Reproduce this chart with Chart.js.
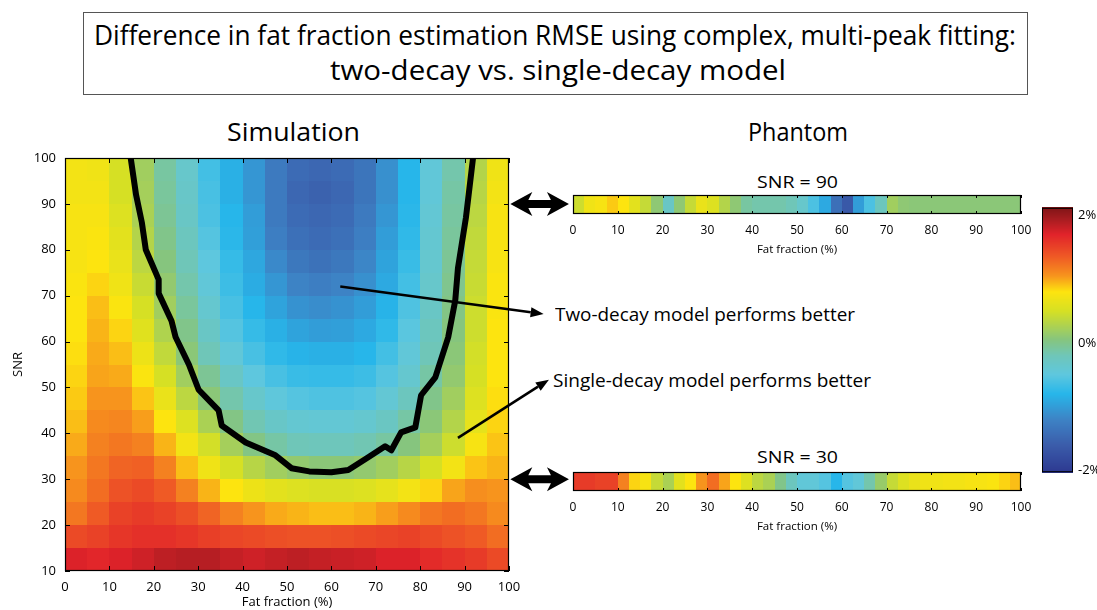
<!DOCTYPE html>
<html>
<head>
<meta charset="utf-8">
<script src="https://cdn.jsdelivr.net/npm/chart.js@4.4.1/dist/chart.umd.min.js"></script>
<style>
    html, body { margin: 0; padding: 0; background: #fff; }
    #page { position: relative; width: 1097px; height: 610px; overflow: hidden; font-family: 'Open Sans', sans-serif; color: #000; }
    canvas { position: absolute; }
    .txt { position: absolute; white-space: nowrap; line-height: 1; transform-origin: 0 0; }
    #titleBox { position: absolute; left: 83px; top: 12px; width: 945px; height: 83px; box-sizing: border-box; border: 1.5px solid #555; }
</style>
</head>
<body>
<div id="page">
    <div id="titleBox"></div>
    <span class="txt" style="left:94px;top:20px;font-size:28px" data-w="922">Difference in fat fraction estimation RMSE using complex, multi-peak fitting:</span>
    <span class="txt" style="left:330px;top:55px;font-size:28px" data-w="456">two-decay vs. single-decay model</span>

    <span class="txt" style="left:227px;top:119px;font-size:25px" data-w="133">Simulation</span>
    <span class="txt" style="left:748px;top:119px;font-size:25px" data-w="100">Phantom</span>

    <span class="txt" style="left:757px;top:173px;font-size:17px" data-w="81">SNR = 90</span>
    <span class="txt" style="left:757px;top:448px;font-size:17px" data-w="81">SNR = 30</span>

    <span class="txt" style="left:555px;top:305px;font-size:18px" data-w="300">Two-decay model performs better</span>
    <span class="txt" style="left:553px;top:371px;font-size:18px" data-w="318">Single-decay model performs better</span>

    <canvas id="sim" width="585" height="470" style="left:0;top:140px"></canvas>
    <canvas id="ph90" width="520" height="75" style="left:540px;top:185px"></canvas>
    <canvas id="ph30" width="520" height="75" style="left:540px;top:462px"></canvas>
    <canvas id="cbar" width="70" height="290" style="left:1030px;top:195px"></canvas>
</div>

<script>
// --- Data ---

// Simulation map: 5% x 5 SNR bins, values = RMSE difference in %
const simFfBins  = [0, 5, 10, 15, 20, 25, 30, 35, 40, 45, 50, 55, 60, 65, 70, 75, 80, 85, 90, 95];
const simSnrBins = [95, 90, 85, 80, 75, 70, 65, 60, 55, 50, 45, 40, 35, 30, 25, 20, 15, 10];
const simValues = [
    [0.72, 0.70, 0.50, 0.20, -0.10, -0.35, -0.65, -0.85, -1.05, -1.30, -1.45, -1.50, -1.45, -1.35, -1.10, -0.80, -0.45, -0.15, 0.30, 0.70],
    [0.72, 0.72, 0.50, 0.22, -0.08, -0.33, -0.62, -0.85, -1.05, -1.30, -1.50, -1.55, -1.50, -1.35, -1.10, -0.80, -0.45, -0.12, 0.32, 0.72],
    [0.75, 0.75, 0.55, 0.25, -0.05, -0.30, -0.60, -0.80, -1.00, -1.30, -1.45, -1.50, -1.45, -1.30, -1.05, -0.78, -0.42, -0.10, 0.35, 0.75],
    [0.75, 0.78, 0.60, 0.30, 0.00, -0.25, -0.55, -0.78, -0.98, -1.25, -1.40, -1.45, -1.40, -1.25, -1.00, -0.75, -0.40, -0.08, 0.38, 0.75],
    [0.75, 0.80, 0.65, 0.35, 0.05, -0.20, -0.50, -0.72, -0.92, -1.15, -1.32, -1.38, -1.32, -1.18, -0.95, -0.70, -0.38, -0.05, 0.40, 0.75],
    [0.78, 0.85, 0.70, 0.42, 0.12, -0.15, -0.45, -0.68, -0.88, -1.05, -1.20, -1.25, -1.20, -1.10, -0.90, -0.65, -0.35, -0.02, 0.42, 0.78],
    [0.80, 0.92, 0.78, 0.50, 0.20, -0.08, -0.38, -0.62, -0.80, -0.95, -1.08, -1.12, -1.08, -1.00, -0.82, -0.58, -0.30, 0.02, 0.45, 0.78],
    [0.80, 0.95, 0.85, 0.58, 0.28, 0.00, -0.30, -0.55, -0.72, -0.85, -0.95, -1.00, -0.98, -0.90, -0.75, -0.52, -0.25, 0.05, 0.45, 0.80],
    [0.82, 0.98, 0.92, 0.68, 0.38, 0.08, -0.20, -0.45, -0.62, -0.75, -0.82, -0.85, -0.85, -0.80, -0.65, -0.45, -0.20, 0.08, 0.48, 0.80],
    [0.85, 1.00, 0.98, 0.78, 0.50, 0.20, -0.05, -0.30, -0.50, -0.62, -0.70, -0.72, -0.72, -0.68, -0.55, -0.38, -0.12, 0.12, 0.50, 0.80],
    [0.88, 1.05, 1.05, 0.90, 0.65, 0.35, 0.08, -0.15, -0.35, -0.48, -0.55, -0.58, -0.58, -0.55, -0.42, -0.25, 0.00, 0.20, 0.55, 0.82],
    [0.92, 1.10, 1.12, 1.02, 0.80, 0.55, 0.25, 0.02, -0.18, -0.32, -0.40, -0.42, -0.42, -0.38, -0.28, -0.12, 0.08, 0.30, 0.62, 0.85],
    [0.98, 1.15, 1.20, 1.15, 0.95, 0.72, 0.48, 0.22, 0.02, -0.12, -0.20, -0.22, -0.22, -0.18, -0.10, 0.05, 0.22, 0.45, 0.75, 0.90],
    [1.05, 1.20, 1.30, 1.32, 1.15, 0.92, 0.70, 0.50, 0.32, 0.20, 0.12, 0.08, 0.08, 0.12, 0.20, 0.32, 0.50, 0.72, 0.90, 0.95],
    [1.10, 1.25, 1.40, 1.45, 1.35, 1.15, 0.95, 0.80, 0.68, 0.60, 0.55, 0.52, 0.52, 0.55, 0.62, 0.72, 0.85, 1.00, 1.08, 1.05],
    [1.20, 1.35, 1.50, 1.55, 1.50, 1.42, 1.30, 1.15, 1.05, 0.98, 0.95, 0.92, 0.92, 0.95, 1.02, 1.10, 1.20, 1.25, 1.20, 1.10],
    [1.45, 1.50, 1.58, 1.62, 1.62, 1.58, 1.52, 1.48, 1.45, 1.42, 1.40, 1.40, 1.42, 1.45, 1.48, 1.50, 1.45, 1.40, 1.35, 1.25],
    [1.72, 1.68, 1.72, 1.78, 1.85, 1.88, 1.88, 1.82, 1.78, 1.82, 1.85, 1.82, 1.80, 1.78, 1.72, 1.72, 1.65, 1.60, 1.55, 1.45]
];

// Zero contour (black line), traced left branch -> bottom -> right branch
const contourFF  = [14.8, 16.0, 17.3, 18.2, 21.1, 21.1, 24.0, 24.9, 27.9, 30.1, 34.6, 35.3, 40.7, 47.4, 51.0, 55.0, 60.0, 63.8, 68.3, 72.1, 73.5, 75.7, 78.9, 80.2, 83.4, 86.3, 87.9, 88.5, 90.3, 91.9];
const contourSNR = [100, 92, 86, 80, 73.5, 70.5, 64.5, 61, 55, 49.5, 45, 41.7, 38, 35.2, 32.4, 31.7, 31.5, 32, 34.8, 37.2, 36.3, 40.2, 41.3, 48.3, 52.2, 60.9, 69, 76, 87, 100];

// Phantom strips: 2.5% bins
const phantomFF = [0, 2.5, 5, 7.5, 10, 12.5, 15, 17.5, 20, 22.5, 25, 27.5, 30, 32.5, 35, 37.5, 40, 42.5, 45, 47.5,
                   50, 52.5, 55, 57.5, 60, 62.5, 65, 67.5, 70, 72.5, 75, 77.5, 80, 82.5, 85, 87.5, 90, 92.5, 95, 97.5];
const phantom90 = [0.45, 0.70, 0.75, 0.88, 0.80, 0.60, 0.40, 0.10, -0.30, 0.10, 0.40, 0.65, 0.55, 0.30, 0.10, -0.10, -0.15, -0.15, -0.15, -0.20,
                   -0.35, -0.60, -0.90, -1.40, -1.65, -1.00, -0.60, -0.25, 0.20, 0.10, 0.08, 0.08, 0.08, 0.08, 0.08, 0.08, 0.08, 0.08, 0.08, 0.08];
const phantom30 = [1.55, 1.55, 1.50, 1.50, 1.15, 0.85, 0.75, 0.40, 0.25, 0.60, 0.80, 1.05, 1.25, 1.00, 0.80, 0.55, 0.35, 0.25, 0.00, -0.25,
                   -0.45, -0.45, -0.55, -0.80, -0.55, -0.45, -0.15, 0.15, 0.40, 0.55, 0.65, 0.70, 0.70, 0.72, 0.72, 0.75, 0.75, 0.78, 0.85, 0.92];

// Axis ticks
const ffTicks   = [0, 10, 20, 30, 40, 50, 60, 70, 80, 90, 100];
const snrTicks  = [10, 20, 30, 40, 50, 60, 70, 80, 90, 100];
const cbarTicks = [-2, 0, 2];

// Colour map (value in % -> colour)
const cmapStops  = [-2.05, -1.6, -1.2, -0.8, -0.5, -0.2, 0.05, 0.3, 0.5, 0.8, 1.05, 1.35, 1.7, 1.95, 2.15];
const cmapColors = ['#2c378f', '#3b5dab', '#3d83c5', '#27b6ea', '#5ec7de', '#6fc6b8', '#86c57e', '#b3d44a',
                    '#d6e024', '#fde40f', '#f7941d', '#ef5a25', '#e1232a', '#a51c20', '#7a1315'];

// --- Helpers ---
const FONT = "'Open Sans', sans-serif";
const hexToRgb = (h) => [1, 3, 5].map(i => parseInt(h.substr(i, 2), 16));
const cmapRgb = cmapColors.map(hexToRgb);

const colorFor = (v) => {
    if (v <= cmapStops[0]) return `rgb(${cmapRgb[0]})`;
    const last = cmapStops.length - 1;
    if (v >= cmapStops[last]) return `rgb(${cmapRgb[last]})`;
    let i = 0;
    while (v > cmapStops[i + 1]) i++;
    const t = (v - cmapStops[i]) / (cmapStops[i + 1] - cmapStops[i]);
    const c = cmapRgb[i].map((a, k) => Math.round(a + (cmapRgb[i + 1][k] - a) * t));
    return `rgb(${c})`;
};

// inward MATLAB-style ticks + frame
const drawFrame = (chart, xt, yt, len) => {
    const { ctx, chartArea: a, scales } = chart;
    ctx.save();
    ctx.strokeStyle = '#000';
    ctx.lineWidth = 1;
    ctx.beginPath();
    xt.forEach(v => {
        const px = Math.round(scales.x.getPixelForValue(v)) + 0.5;
        ctx.moveTo(px, a.bottom); ctx.lineTo(px, a.bottom - len);
        ctx.moveTo(px, a.top); ctx.lineTo(px, a.top + len);
    });
    yt.forEach(v => {
        const py = Math.round(scales.y.getPixelForValue(v)) + 0.5;
        ctx.moveTo(a.left, py); ctx.lineTo(a.left + len, py);
        ctx.moveTo(a.right, py); ctx.lineTo(a.right - len, py);
    });
    ctx.stroke();
    ctx.lineWidth = 1.2;
    ctx.strokeRect(a.left + 0.5, a.top + 0.5, a.right - a.left - 1, a.bottom - a.top - 1);
    ctx.restore();
};

const thinArrow = (ctx, x0, y0, x1, y1) => {
    const ang = Math.atan2(y1 - y0, x1 - x0), L = 13, W = 5;
    const bx = x1 - L * Math.cos(ang), by = y1 - L * Math.sin(ang);
    ctx.save();
    ctx.strokeStyle = '#000'; ctx.fillStyle = '#000'; ctx.lineWidth = 2.5;
    ctx.beginPath(); ctx.moveTo(x0, y0); ctx.lineTo(bx, by); ctx.stroke();
    ctx.beginPath();
    ctx.moveTo(x1, y1);
    ctx.lineTo(bx + W * Math.sin(ang), by - W * Math.cos(ang));
    ctx.lineTo(bx - W * Math.sin(ang), by + W * Math.cos(ang));
    ctx.closePath(); ctx.fill();
    ctx.restore();
};

const doubleArrow = (ctx, xa, xb, y) => {
    const L = 22, H = 12, T = 4;
    ctx.save();
    ctx.fillStyle = '#000';
    ctx.beginPath();
    ctx.moveTo(xa, y);
    ctx.lineTo(xa + L, y - H); ctx.lineTo(xa + L - 4, y - T);
    ctx.lineTo(xb - L + 4, y - T); ctx.lineTo(xb - L, y - H);
    ctx.lineTo(xb, y);
    ctx.lineTo(xb - L, y + H); ctx.lineTo(xb - L + 4, y + T);
    ctx.lineTo(xa + L - 4, y + T); ctx.lineTo(xa + L, y + H);
    ctx.closePath(); ctx.fill();
    ctx.restore();
};

// --- Simulation heat map ---
const heatmapPlugin = {
    id: 'heatmap',
    beforeDatasetsDraw(chart) {
        const { ctx, scales: { x, y } } = chart;
        simValues.forEach((row, r) => {
            const lo = simSnrBins[r];
            const py0 = Math.round(y.getPixelForValue(lo + 5));
            const py1 = Math.round(y.getPixelForValue(lo));
            row.forEach((v, c) => {
                const px0 = Math.round(x.getPixelForValue(simFfBins[c]));
                const px1 = Math.round(x.getPixelForValue(simFfBins[c] + 5));
                ctx.fillStyle = colorFor(v);
                ctx.fillRect(px0, py0, px1 - px0, py1 - py0);
            });
        });
    },
    afterDraw(chart) {
        const { ctx, scales: { x, y } } = chart;
        drawFrame(chart, ffTicks, snrTicks, 5);
        // annotation pointers
        thinArrow(ctx, x.getPixelForValue(62), y.getPixelForValue(72), x.getPixelForValue(107.8), y.getPixelForValue(66));
        thinArrow(ctx, x.getPixelForValue(88.5), y.getPixelForValue(39), x.getPixelForValue(109), y.getPixelForValue(51.7));
        [90, 30].forEach(s => doubleArrow(ctx, x.getPixelForValue(100.3), x.getPixelForValue(113.5), y.getPixelForValue(s)));
    }
};

new Chart(document.getElementById('sim'), {
    type: 'line',
    data: {
        datasets: [{
            data: contourFF.map((f, i) => ({ x: f, y: contourSNR[i] })),
            borderColor: '#000',
            borderWidth: 6,
            borderJoinStyle: 'round',
            borderCapStyle: 'round',
            pointRadius: 0,
            tension: 0
        }]
    },
    options: {
        responsive: false,
        animation: false,
        events: [],
        layout: { padding: { top: 18, right: 76, left: 0, bottom: 0 } },
        plugins: { legend: { display: false }, tooltip: { enabled: false } },
        scales: {
            x: {
                type: 'linear', min: 0, max: 100,
                afterBuildTicks: s => { s.ticks = ffTicks.map(v => ({ value: v })); },
                ticks: { autoSkip: false, maxRotation: 0, padding: 8, color: '#000', font: { family: FONT, size: 13 } },
                grid: { display: false, drawTicks: false },
                border: { display: false },
                title: { display: true, text: 'Fat fraction (%)', color: '#000', font: { family: FONT, size: 13 }, padding: 0 },
                afterFit: s => { s.height = 39; }
            },
            y: {
                type: 'linear', min: 10, max: 100,
                afterBuildTicks: s => { s.ticks = snrTicks.map(v => ({ value: v })); },
                ticks: { padding: 9, color: '#000', font: { family: FONT, size: 13 } },
                grid: { display: false, drawTicks: false },
                border: { display: false },
                title: { display: true, text: 'SNR', color: '#000', font: { family: FONT, size: 13 }, padding: 10 },
                afterFit: s => { s.width = 65; }
            }
        }
    },
    plugins: [heatmapPlugin]
});

// --- Phantom strips ---
const makeStrip = (id, values) => new Chart(document.getElementById(id), {
    type: 'line',
    data: { datasets: [] },
    options: {
        responsive: false,
        animation: false,
        events: [],
        layout: { padding: { top: 10, left: 33, right: 39, bottom: 0 } },
        plugins: { legend: { display: false }, tooltip: { enabled: false } },
        scales: {
            x: {
                type: 'linear', min: 0, max: 100,
                afterBuildTicks: s => { s.ticks = ffTicks.map(v => ({ value: v })); },
                ticks: { autoSkip: false, maxRotation: 0, padding: 9, color: '#000', font: { family: FONT, size: 12 } },
                grid: { display: false, drawTicks: false },
                border: { display: false },
                title: { display: true, text: 'Fat fraction (%)', color: '#000', font: { family: FONT, size: 11.5 }, padding: 3 },
                afterFit: s => { s.height = 46; }
            },
            y: { display: false, min: 0, max: 1 }
        }
    },
    plugins: [{
        id: 'strip',
        beforeDatasetsDraw(chart) {
            const { ctx, chartArea: a, scales: { x } } = chart;
            values.forEach((v, i) => {
                const px0 = Math.round(x.getPixelForValue(phantomFF[i]));
                const px1 = Math.round(x.getPixelForValue(phantomFF[i] + 2.5));
                ctx.fillStyle = colorFor(v);
                ctx.fillRect(px0, a.top, px1 - px0, a.bottom - a.top);
            });
        },
        afterDraw(chart) { drawFrame(chart, ffTicks, [], 3); }
    }]
});

makeStrip('ph90', phantom90);
makeStrip('ph30', phantom30);

// --- Colour bar ---
new Chart(document.getElementById('cbar'), {
    type: 'line',
    data: { datasets: [] },
    options: {
        responsive: false,
        animation: false,
        events: [],
        layout: { padding: { top: 10, left: 12, right: 0, bottom: 9 } },
        plugins: { legend: { display: false }, tooltip: { enabled: false } },
        scales: {
            x: { display: false, min: 0, max: 1 },
            y: {
                position: 'right', min: -2.03, max: 2.12,
                afterBuildTicks: s => { s.ticks = cbarTicks.map(v => ({ value: v })); },
                ticks: { padding: 5, color: '#000', font: { family: FONT, size: 13 }, callback: v => v + '%' },
                grid: { display: false, drawTicks: false },
                border: { display: false },
                afterFit: s => { s.width = 27; }
            }
        }
    },
    plugins: [{
        id: 'cbarFill',
        beforeDatasetsDraw(chart) {
            const { ctx, chartArea: a, scales: { y } } = chart;
            for (let py = Math.floor(a.top); py < a.bottom; py++) {
                ctx.fillStyle = colorFor(y.getValueForPixel(py + 0.5));
                ctx.fillRect(a.left, py, a.right - a.left, 1);
            }
        },
        afterDraw(chart) {
            const { ctx, chartArea: a } = chart;
            ctx.save();
            ctx.strokeStyle = '#000';
            ctx.lineWidth = 1;
            ctx.strokeRect(a.left + 0.5, a.top + 0.5, a.right - a.left - 1, a.bottom - a.top - 1);
            ctx.restore();
        }
    }]
});

// squeeze the texts to the widths used in the figure
document.fonts.ready.then(() => {
    document.querySelectorAll('.txt').forEach(el => {
        const w = el.getBoundingClientRect().width;
        el.style.transform = `scaleX(${(+el.dataset.w / w).toFixed(4)})`;
    });
});
</script>
</body>
</html>
